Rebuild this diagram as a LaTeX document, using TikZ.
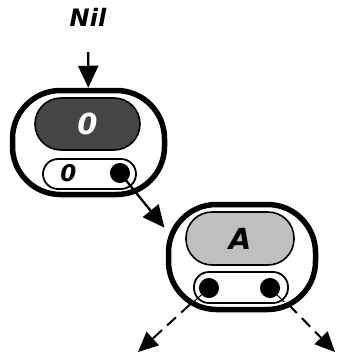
\documentclass[tikz,border=0pt]{standalone}
\usepackage{fontspec}
\newfontfamily\cellfont{DejaVu Sans}
\usepackage{tikz}
\usetikzlibrary{arrows.meta, calc}

\begin{document}
\begin{tikzpicture}[x=1pt, y=-1pt,
      cell/.style={rectangle, rounded corners=48pt, draw, line width=5.5pt,
         fill=white, inner sep=0pt},
      key/.style={rectangle, rounded corners=26pt, draw, line width=1.6pt,
         inner sep=0pt, font=\cellfont\fontsize{29}{29}\bfseries\itshape},
      slot/.style={rectangle, rounded corners=15pt, draw, line width=1.8pt,
         fill=white, inner sep=0pt},
      ptr/.style={circle, fill=black, draw, line width=1pt, inner sep=0pt,
         minimum size=19pt},
      link/.style={line width=2.3pt, -{Triangle[length=22pt, width=20pt]}},
      child/.style={line width=2pt, dash pattern=on 12pt off 7pt,
         -{Triangle[length=20pt, width=18pt]}}]
      \useasboundingbox (0,0) rectangle (337,354);

      \node (nil) at (88,17.5) [font=\cellfont\fontsize{24}{24}\bfseries\itshape] {Nil};

      \coordinate (endL) at (138,352);
      \coordinate (endR) at (335,352);

      % the first cell
      \node (cell0) at (88.5,142.5) [cell, minimum width=152pt, minimum height=104pt] {};
      \node (key0) at (87.5,124) [key, fill=black!73, text=white,
         minimum width=105pt, minimum height=52pt] {0};
      \node (slot0) at (89.5,174) [slot, minimum width=93pt, minimum height=30pt] {};
      \node (val0) at (68.5,173.5) [font=\cellfont\fontsize{23}{23}\bfseries\itshape] {0};

      % the second cell
      \draw [child] ($(242,257)!0.5!(endL)$) -- (endL);
      \draw [child] ($(242,257)!0.5!(endR)$) -- (endR);
      \node (cell1) at (242,257) [cell, minimum width=147pt, minimum height=105pt] {};
      \node (key1) at (240,238.5) [key, fill=black!25,
         minimum width=108pt, minimum height=53pt] {A};
      \node (slot1) at (241,287.5) [slot, minimum width=94pt, minimum height=31pt] {};
      \draw [line width=1pt] (209,288) -- ($(209,288)!0.22!(endL)$);
      \draw [line width=1pt] (270,288) -- ($(270,288)!0.22!(endR)$);
      \node (dotL) at (209,288) [ptr] {};
      \node (dotR) at (270,288) [ptr] {};

      \draw [link, shorten <=22pt] (nil) -- (cell0);
      \draw [link, shorten >=2pt] (120,173) -- (cell1.160);
      \node (dot0) at (120,173) [ptr] {};
   \end{tikzpicture}
\end{document}
